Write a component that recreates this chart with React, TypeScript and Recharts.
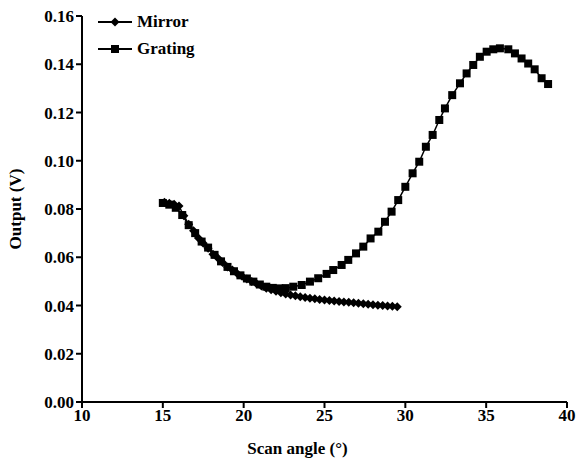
import React from 'react';
import { LineChart, Line, XAxis, YAxis, Legend } from 'recharts';

const mirrorX = [15.1, 15.4, 15.7, 16.0, 16.3, 16.6, 16.9, 17.2, 17.5, 17.8, 18.1, 18.4, 18.7, 19.0, 19.3, 19.6, 19.9, 20.2, 20.5, 20.8, 21.1, 21.4, 21.7, 22.0, 22.3, 22.6, 22.9, 23.2, 23.5, 23.8, 24.1, 24.4, 24.7, 25.0, 25.3, 25.6, 25.9, 26.2, 26.5, 26.8, 27.1, 27.4, 27.7, 28.0, 28.3, 28.6, 28.9, 29.2, 29.5];
const mirrorY = [0.0828, 0.0824, 0.082, 0.0812, 0.0772, 0.0737, 0.071, 0.068, 0.0658, 0.0637, 0.0612, 0.0597, 0.0578, 0.056, 0.0547, 0.0533, 0.0521, 0.051, 0.05, 0.049, 0.0481, 0.0472, 0.0465, 0.0459, 0.0453, 0.0448, 0.0444, 0.044, 0.0436, 0.0433, 0.043, 0.0428, 0.0425, 0.0423, 0.0421, 0.0419, 0.0417, 0.0415, 0.0413, 0.0411, 0.0409, 0.0407, 0.0405, 0.0403, 0.0401, 0.04, 0.0398, 0.0397, 0.0395];

const gratingX = [15.0, 15.4, 15.8, 16.2, 16.6, 17.0, 17.4, 17.8, 18.2, 18.6, 19.0, 19.4, 19.8, 20.2, 20.6, 21.0, 21.4, 21.8, 22.2, 22.6, 23.07, 23.59, 24.1, 24.61, 25.13, 25.54, 26.06, 26.47, 26.95, 27.4, 27.85, 28.33, 28.74, 29.15, 29.56, 30.0, 30.45, 30.86, 31.27, 31.69, 32.1, 32.45, 32.9, 33.38, 33.79, 34.2, 34.61, 35.03, 35.44, 35.85, 36.37, 36.78, 37.19, 37.6, 38.0, 38.43, 38.83];
const gratingY = [0.0825, 0.0818, 0.0805, 0.0775, 0.0733, 0.07, 0.0665, 0.064, 0.061, 0.0583, 0.056, 0.0542, 0.0525, 0.0512, 0.0499, 0.0487, 0.0478, 0.0473, 0.0471, 0.0472, 0.0478, 0.0485, 0.0499, 0.0513, 0.0531, 0.0547, 0.0568, 0.0589, 0.0616, 0.0644, 0.0678, 0.0706, 0.0747, 0.0789, 0.0837, 0.0892, 0.0948, 0.0996, 0.1058, 0.1107, 0.1169, 0.1217, 0.1272, 0.1321, 0.1362, 0.1397, 0.1431, 0.1452, 0.1462, 0.1466, 0.1462, 0.1445, 0.1424, 0.1403, 0.1379, 0.1342, 0.1318];

const xTicks = [10, 15, 20, 25, 30, 35, 40];
const yTicks = [0, 0.02, 0.04, 0.06, 0.08, 0.1, 0.12, 0.14, 0.16];

const mirrorData = mirrorX.map((x, i) => ({ x, y: mirrorY[i] }));
const gratingData = gratingX.map((x, i) => ({ x, y: gratingY[i] }));

const FONT = '"Liberation Serif", "Times New Roman", serif';

const SquareDot = (p: any) => {
  if (p.cx == null || p.cy == null) return <g key={p.index} />;
  return <rect key={p.index} x={p.cx - 4} y={p.cy - 4} width={8} height={8} fill="#000" />;
};

const DiamondDot = (p: any) => {
  if (p.cx == null || p.cy == null) return <g key={p.index} />;
  const { cx, cy } = p;
  const r = 4.5;
  return <polygon key={p.index} points={`${cx},${cy - r} ${cx + r},${cy} ${cx},${cy + r} ${cx - r},${cy}`} fill="#000" />;
};

const renderLegend = () => (
  <div style={{ fontFamily: FONT, fontWeight: 'bold', fontSize: 17, color: '#000', lineHeight: '27px' }}>
    <div style={{ display: 'flex', alignItems: 'center', height: 27 }}>
      <svg width={36} height={12}>
        <line x1={0} y1={6} x2={34} y2={6} stroke="#000" strokeWidth={2} />
        <polygon points="17,1.5 21.5,6 17,10.5 12.5,6" fill="#000" />
      </svg>
      <span style={{ marginLeft: 3 }}>Mirror</span>
    </div>
    <div style={{ display: 'flex', alignItems: 'center', height: 27 }}>
      <svg width={36} height={12}>
        <line x1={0} y1={6} x2={34} y2={6} stroke="#000" strokeWidth={2} />
        <rect x={13} y={2} width={8} height={8} fill="#000" />
      </svg>
      <span style={{ marginLeft: 3 }}>Grating</span>
    </div>
  </div>
);

const tickStyle = { fill: '#000', fontFamily: FONT, fontWeight: 'bold', fontSize: 17 } as any;

export default function App() {
  return (
    <div style={{ position: 'absolute', left: 0, top: 0, width: 579, height: 466, background: '#fff' }}>
      <LineChart width={579} height={466} margin={{ top: 16, right: 12, left: 0, bottom: 34 }}>
        <XAxis
          type="number"
          dataKey="x"
          domain={[10, 40]}
          ticks={xTicks}
          allowDecimals
          height={30}
          axisLine={{ stroke: '#000', strokeWidth: 2 }}
          tickLine={{ stroke: '#000', strokeWidth: 2 }}
          tickSize={6}
          tickMargin={1}
          tick={tickStyle}
          label={{
            content: (props: any) => {
              const vb = props.viewBox || {};
              return (
                <text x={vb.x + vb.width / 2 - 27} y={vb.y + vb.height + 22} textAnchor="middle" fontFamily={FONT} fontWeight="bold" fontSize={17} fill="#000">
                  Scan angle (°)
                </text>
              );
            },
          }}
        />
        <YAxis
          type="number"
          dataKey="y"
          domain={[0, 0.16]}
          ticks={yTicks}
          width={82}
          axisLine={{ stroke: '#000', strokeWidth: 2 }}
          tickLine={{ stroke: '#000', strokeWidth: 2 }}
          tickSize={6}
          tickMargin={2}
          tick={tickStyle}
          tickFormatter={(v: number) => v.toFixed(2)}
          label={{
            content: (props: any) => {
              const vb = props.viewBox || {};
              const cy = vb.y + vb.height / 2;
              return (
                <text x={15} y={cy} transform={`rotate(-90, 15, ${cy})`} textAnchor="middle" dominantBaseline="central" fontFamily={FONT} fontWeight="bold" fontSize={17} fill="#000">
                  Output (V)
                </text>
              );
            },
          }}
        />
        <Legend
          content={renderLegend}
          layout="vertical"
          verticalAlign="middle"
          align="center"
          wrapperStyle={{ position: 'absolute', left: 98, top: 8, width: 'auto', height: 'auto' }}
        />
        <Line data={gratingData} dataKey="y" name="Grating" stroke="#000" strokeWidth={1.5} dot={(p: any) => <SquareDot key={p.index} {...p} />} isAnimationActive={false} />
        <Line data={mirrorData} dataKey="y" name="Mirror" stroke="#000" strokeWidth={1.5} dot={(p: any) => <DiamondDot key={p.index} {...p} />} isAnimationActive={false} />
      </LineChart>
    </div>
  );
}
